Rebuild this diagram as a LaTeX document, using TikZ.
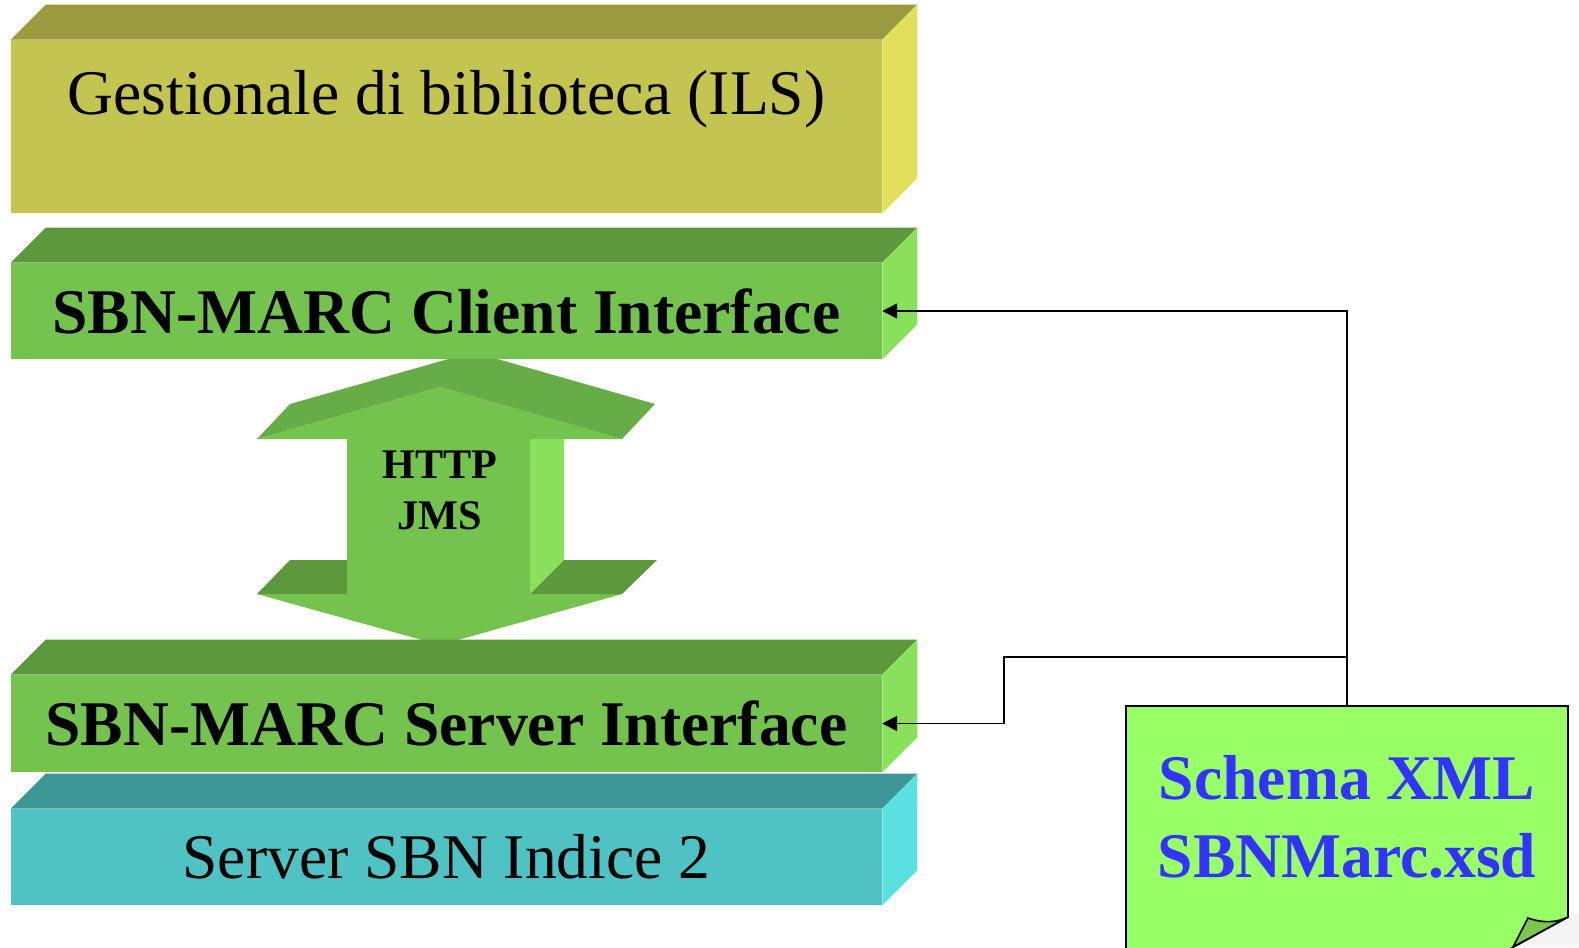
\documentclass[tikz,border=0pt]{standalone}
\usepackage{fontspec}
\setmainfont{Liberation Serif}
\usetikzlibrary{arrows.meta,calc}

\definecolor{oliveFront}{HTML}{C4C451}
\definecolor{oliveTop}{HTML}{9A9A3E}
\definecolor{oliveSide}{HTML}{E1E05A}
\definecolor{greenFront}{HTML}{74C34F}
\definecolor{greenTop}{HTML}{5E983C}
\definecolor{greenSide}{HTML}{88E05B}
\definecolor{tealFront}{HTML}{4FC3C3}
\definecolor{tealTop}{HTML}{3E9797}
\definecolor{tealSide}{HTML}{5BE0E0}
\definecolor{headTop}{HTML}{67AD47}
\definecolor{noteFill}{HTML}{99FF66}
\definecolor{noteFold}{HTML}{7CC650}
\definecolor{xsdBlue}{HTML}{3333FF}

\tikzset{
  slab/.style={rectangle, inner sep=0pt, minimum width=17.42cm, font=\fontsize{36.2}{43}\selectfont},
  heavy/.style={font=\bfseries\fontsize{36.2}{43}\selectfont},
  conn/.style={-{Triangle[length=8.5pt,width=8.5pt]}, line width=0.95pt},
}

\begin{document}
\begin{tikzpicture}[x=0.02cm, y=-0.02cm]
    \useasboundingbox (0,0) rectangle (1579,947);
    \clip (0,0) rectangle (1579,947);

    % Double arrow between the interfaces
    \fill[greenFront] (440,387) -- (622,439) -- (530,439) -- (530,594) -- (622,594) -- (440,645)
        -- (257,594) -- (347,594) -- (347,439) -- (257,439) -- cycle;
    \fill[headTop] (257,439) -- (290,404) -- (473,352) -- (655,404) -- (622,439) -- (440,387) -- cycle;
    \fill[greenSide] (530,439) -- (564,439) -- (564,560) -- (530,594) -- cycle;
    \fill[greenTop] (257,594) -- (290,560) -- (347,560) -- (347,594) -- cycle;
    \fill[greenTop] (530,594) -- (564,560) -- (657,560) -- (622,594) -- cycle;
    \node[font=\bfseries\fontsize{24}{29}\selectfont, align=center] (proto) at (440,490) {HTTP\\JMS};

    % Nodes
    \node[slab, fill=oliveFront, minimum height=3.46cm, text height=1.48cm, text depth=1.98cm] (ils) at (446.5,126.5) {Gestionale di biblioteca (ILS)};
    \node[slab, heavy, fill=greenFront, minimum height=1.92cm] (client) at (446.5,311) {SBN-MARC Client Interface};
    \node[slab, heavy, fill=greenFront, minimum height=1.94cm] (server) at (446.5,723.5) {SBN-MARC Server Interface};
    \node[slab, fill=tealFront, minimum height=1.92cm] (indice) at (446.5,857) {Server SBN Indice 2};

    % Top and side faces
    \foreach \b/\col in {ils/olive, client/green, server/green, indice/teal} {
        \fill[fill=\col Top] (\b.north west) -- ++(35,-35) -- ($(\b.north east)+(35,-35)$) -- (\b.north east) -- cycle;
        \fill[fill=\col Side] (\b.north east) -- ++(35,-35) -- ($(\b.south east)+(35,-35)$) -- (\b.south east) -- cycle;
    }

    % Schema note
    \fill[gray!8] (1513,947) -- (1568,917) -- (1579,912) -- (1579,947) -- cycle;
    \filldraw[fill=noteFill, line width=0.95pt] (1126,960) -- (1126,706) -- (1568,706) -- (1568,917) -- (1490,960) -- cycle;
    \filldraw[fill=noteFold, line width=0.95pt] (1513,947) -- (1528,918) .. controls (1545,924) and (1558,922) .. (1568,917) -- cycle;
    \node[minimum width=8.84cm, minimum height=4.44cm, align=center, text=xsdBlue,
          font=\bfseries\fontsize{36.2}{44.4}\selectfont] (xsd) at (1347,817) {Schema XML\\SBNMarc.xsd};

    % Arrows
    \coordinate (fork) at (1347,657);
    \draw[conn] (xsd.north) |- (client.east);
    \draw[conn] (fork) -- ++(-343,0) |- (server.east);
\end{tikzpicture}
\end{document}
